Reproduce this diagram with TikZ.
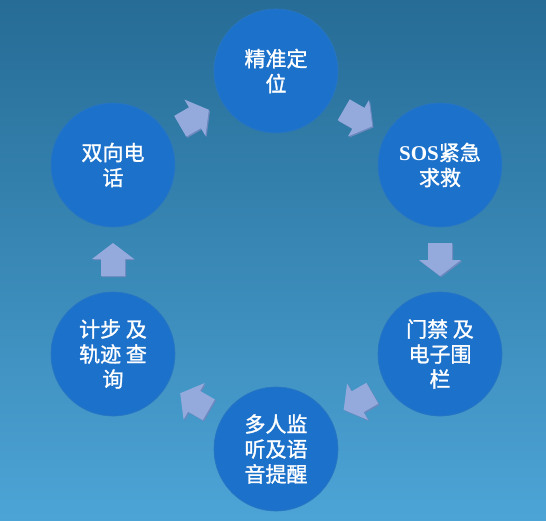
\documentclass[tikz,border=0pt]{standalone}
\usepackage{fontspec}
\newfontfamily\cjk[FakeBold=1.3]{Noto Sans CJK SC}
\newfontfamily\latinserif{Liberation Serif}
\usetikzlibrary{calc}
\definecolor{bgtop}{RGB}{38,108,150}
\definecolor{bgbot}{RGB}{76,164,214}
\definecolor{ballin}{RGB}{28,114,202}
\definecolor{ballout}{RGB}{40,132,222}
\definecolor{ballrim}{RGB}{66,154,236}
\definecolor{ballline}{RGB}{42,118,194}
\definecolor{arrowface}{RGB}{148,170,220}
\definecolor{arrowside}{RGB}{108,136,190}
\pgfdeclareradialshading{ballshade}{\pgfpoint{0bp}{0bp}}{color(0bp)=(ballin); color(32bp)=(ballin); color(45bp)=(ballout); color(48.5bp)=(ballrim); color(50bp)=(ballout)}
\tikzset{
  ball/.style={circle, minimum size=124pt, inner sep=0pt, shade, shading=ballshade,
    draw=ballline, line width=0.6pt, text=white, align=center,
    font=\cjk\fontsize{21}{25}\selectfont},
  blockarrow/.pic={\path[pic actions] (-16.5,-12) -- (0.5,-12) -- (0.5,-21) -- (16.5,0) -- (0.5,21) -- (0.5,12) -- (-16.5,12) -- cycle;},
  arrowback/.style={fill=arrowside},
  arrowfront/.style={fill=arrowface},
}
\begin{document}
\begin{tikzpicture}[x=1pt,y=-1pt]
\useasboundingbox (0,0) rectangle (546,520);
\shade[top color=bgtop, bottom color=bgbot] (0,0) rectangle (546,520);
\node[ball] (n1) at (276,71) {精准定\\位};
\node[ball] (n2) at (440,165) {{\latinserif\bfseries SOS}紧急\\求救};
\node[ball] (n3) at (440,354) {门禁 及\\电子围\\栏};
\node[ball] (n4) at (276,449) {多人监\\听及语\\音提醒};
\node[ball] (n5) at (113,354) {计步 及\\轨迹 查\\询};
\node[ball] (n6) at (113,165) {双向电\\话};
\foreach \a/\b/\r in {n6/n1/30, n1/n2/-30, n2/n3/-90, n3/n4/-150, n4/n5/150, n5/n6/90}{
  \pic[rotate=\r, arrowback] at ($(\a)!0.5!(\b)+(1.2,1.2)$) {blockarrow};
  \pic[rotate=\r, arrowfront] at ($(\a)!0.5!(\b)$) {blockarrow};
}
\end{tikzpicture}
\end{document}
